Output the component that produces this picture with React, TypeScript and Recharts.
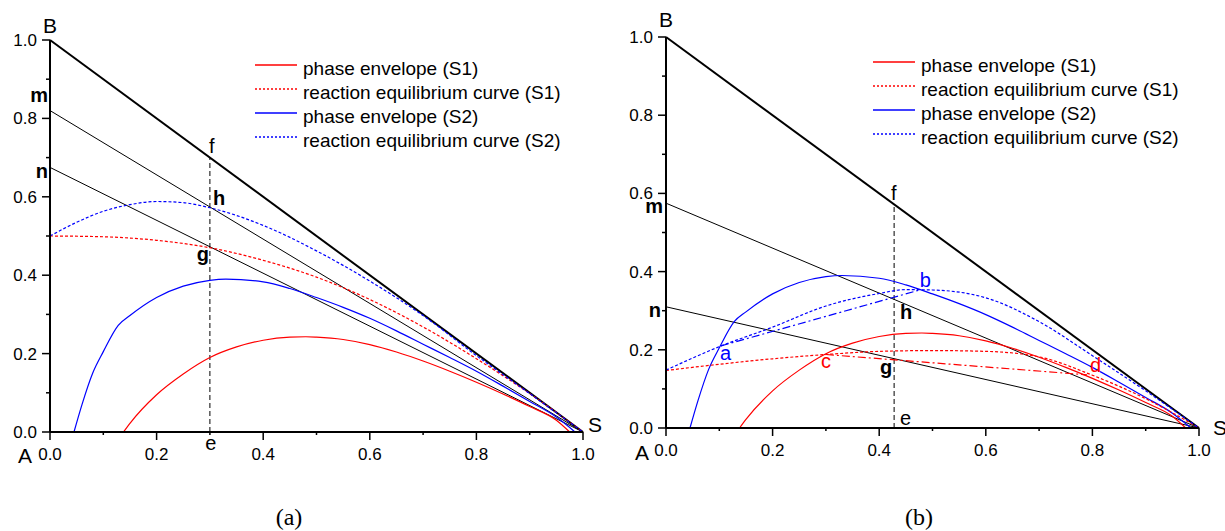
import React from "react";
import { LineChart, Line, XAxis, YAxis, ReferenceDot, Legend } from "recharts";

type Pt = [number, number];

// axis ticks (every 0.1, labels on the even ones)
const axisTicks = [0, 0.1, 0.2, 0.3, 0.4, 0.5, 0.6, 0.7, 0.8, 0.9, 1.0];

const legendNames = [
  "phase envelope (S1)",
  "reaction equilibrium curve (S1)",
  "phase envelope (S2)",
  "reaction equilibrium curve (S2)",
];

// triangle and operating lines
const sideBS: Pt[] = [[0, 1], [1, 0]];
const lineMa: Pt[] = [[0, 0.82], [1, 0]];
const lineNa: Pt[] = [[0, 0.675], [1, 0]];
const lineEFa: Pt[] = [[0.3, 0], [0.3, 0.7]];
const lineMb: Pt[] = [[0, 0.575], [1, 0]];
const lineNb: Pt[] = [[0, 0.31], [1, 0]];
const lineEFb: Pt[] = [[0.428, 0], [0.428, 0.572]];

// phase envelopes (same in both panels)
const envS1: Pt[] = [
  [0.138, 0], [0.15, 0.022], [0.2, 0.095], [0.25, 0.148], [0.3, 0.19], [0.35, 0.217],
  [0.4, 0.234], [0.45, 0.242], [0.48, 0.243], [0.5, 0.242], [0.55, 0.236], [0.6, 0.223],
  [0.65, 0.204], [0.7, 0.181], [0.75, 0.155], [0.8, 0.127], [0.85, 0.097], [0.9, 0.065],
  [0.95, 0.03], [0.975, 0],
];
const envS2: Pt[] = [
  [0.045, 0], [0.06, 0.07], [0.08, 0.15], [0.1, 0.205], [0.128, 0.272], [0.15, 0.297],
  [0.2, 0.343], [0.25, 0.372], [0.3, 0.387], [0.33, 0.39], [0.4, 0.383], [0.45, 0.366],
  [0.5, 0.343], [0.55, 0.318], [0.6, 0.29], [0.65, 0.258], [0.7, 0.224], [0.75, 0.19],
  [0.8, 0.155], [0.85, 0.117], [0.9, 0.078], [0.95, 0.038], [0.985, 0],
];

// reaction equilibrium curves, panel (a)
const reqS1a: Pt[] = [
  [0, 0.5], [0.1, 0.498], [0.2, 0.489], [0.3, 0.47], [0.4, 0.438], [0.5, 0.395],
  [0.6, 0.338], [0.7, 0.268], [0.8, 0.187], [0.9, 0.098], [1, 0],
];
const reqS2a: Pt[] = [
  [0, 0.5], [0.05, 0.535], [0.1, 0.563], [0.15, 0.58], [0.2, 0.588], [0.25, 0.585],
  [0.3, 0.572], [0.4, 0.527], [0.5, 0.462], [0.6, 0.385], [0.7, 0.297], [0.8, 0.195],
  [0.9, 0.098], [1, 0],
];

// reaction equilibrium curves, panel (b)
const reqS1b: Pt[] = [
  [0, 0.147], [0.1, 0.163], [0.2, 0.177], [0.3, 0.188], [0.4, 0.196], [0.5, 0.198],
  [0.6, 0.196], [0.7, 0.182], [0.8, 0.135], [0.9, 0.075], [1, 0],
];
const reqS2b: Pt[] = [
  [0, 0.148], [0.1, 0.208], [0.2, 0.258], [0.3, 0.312], [0.4, 0.344], [0.45, 0.354],
  [0.5, 0.353], [0.6, 0.333], [0.7, 0.272], [0.8, 0.185], [0.9, 0.095], [1, 0],
];
const tieS2b: Pt[] = [[0.103, 0.21], [0.476, 0.353]];
const tieS1b: Pt[] = [[0.3, 0.188], [0.79, 0.136]];

// point names
const tagsA: { t: string; x: number; y: number }[] = [
  { t: "B", x: 0, y: 1 }, { t: "A", x: 0, y: 0 }, { t: "S", x: 1, y: 0 },
  { t: "m", x: 0, y: 0.82 }, { t: "n", x: 0, y: 0.675 },
  { t: "f", x: 0.3, y: 0.7 }, { t: "h", x: 0.3, y: 0.574 },
  { t: "g", x: 0.3, y: 0.4725 }, { t: "e", x: 0.3, y: 0 },
];
const tagsB: { t: string; x: number; y: number }[] = [
  { t: "B", x: 0, y: 1 }, { t: "A", x: 0, y: 0 }, { t: "S", x: 1, y: 0 },
  { t: "m", x: 0, y: 0.575 }, { t: "n", x: 0, y: 0.31 },
  { t: "f", x: 0.428, y: 0.572 }, { t: "h", x: 0.428, y: 0.329 },
  { t: "g", x: 0.428, y: 0.177 }, { t: "e", x: 0.428, y: 0 },
  { t: "a", x: 0.103, y: 0.21 }, { t: "b", x: 0.476, y: 0.353 },
  { t: "c", x: 0.3, y: 0.188 }, { t: "d", x: 0.79, y: 0.136 },
];

const FONT = "'Liberation Sans', Arial, Helvetica, sans-serif";
const RED = "#ff0000";
const BLUE = "#0000ff";

type TagStyle = { dx: number; dy: number; anchor: "start" | "middle" | "end"; size: number; bold?: boolean; color?: string };

const tagStyleA: Record<string, TagStyle> = {
  B: { dx: 0, dy: -7, anchor: "middle", size: 21 },
  A: { dx: -25, dy: 31, anchor: "middle", size: 21 },
  S: { dx: 5, dy: 0, anchor: "start", size: 21 },
  m: { dx: -2, dy: -9, anchor: "end", size: 20, bold: true },
  n: { dx: -2, dy: 11, anchor: "end", size: 20, bold: true },
  f: { dx: -1, dy: -5, anchor: "start", size: 20 },
  h: { dx: 3, dy: -2, anchor: "start", size: 20, bold: true },
  g: { dx: -1, dy: 14, anchor: "end", size: 20, bold: true },
  e: { dx: 1, dy: 18, anchor: "middle", size: 20 },
};
const tagStyleB: Record<string, TagStyle> = {
  B: { dx: 0, dy: -10, anchor: "middle", size: 21 },
  A: { dx: -24, dy: 32, anchor: "middle", size: 21 },
  S: { dx: 14, dy: 7, anchor: "start", size: 21 },
  m: { dx: -3, dy: 10, anchor: "end", size: 20, bold: true },
  n: { dx: -5, dy: 10, anchor: "end", size: 20, bold: true },
  f: { dx: -3, dy: -4, anchor: "start", size: 20 },
  h: { dx: 6, dy: 20, anchor: "start", size: 20, bold: true },
  g: { dx: -2, dy: 15, anchor: "end", size: 20, bold: true },
  e: { dx: 6, dy: -3, anchor: "start", size: 20 },
  a: { dx: -1, dy: 14, anchor: "start", size: 20, color: BLUE },
  b: { dx: 0, dy: -3, anchor: "start", size: 20, color: BLUE },
  c: { dx: -5, dy: 14, anchor: "start", size: 20, color: RED },
  d: { dx: 3, dy: -3, anchor: "start", size: 20, color: RED },
};

const pts = (arr: Pt[]) => arr.map(([x, y]) => ({ x, y }));
const isMajor = (v: number) => Math.round(v * 10) % 2 === 0;

function XTick(props: any) {
  const { x, y, payload } = props;
  const v = payload.value as number;
  const major = isMajor(v);
  return (
    <g>
      <line x1={x} x2={x} y1={y} y2={y + (major ? 8 : 3)} stroke="#000" strokeWidth={1.5} />
      {major && (
        <text x={x} y={y + 28} textAnchor="middle" fontSize={17} fontFamily={FONT} fill="#000">
          {v.toFixed(1)}
        </text>
      )}
    </g>
  );
}

function YTick(props: any) {
  const { x, y, payload } = props;
  const v = payload.value as number;
  const major = isMajor(v);
  return (
    <g>
      <line x1={x} x2={x - (major ? 8 : 4)} y1={y} y2={y} stroke="#000" strokeWidth={1.5} />
      {major && (
        <text x={x - 13} y={y + 6} textAnchor="end" fontSize={17} fontFamily={FONT} fill="#000">
          {v.toFixed(1)}
        </text>
      )}
    </g>
  );
}

const legendStyles = [
  { color: RED, dash: undefined },
  { color: RED, dash: "2 2" },
  { color: BLUE, dash: undefined },
  { color: BLUE, dash: "2 2" },
];

function LegendBox() {
  return (
    <svg width={340} height={100} style={{ overflow: "visible" }}>
      {legendNames.map((name, i) => (
        <g key={name}>
          <line
            x1={0}
            x2={42}
            y1={10 + i * 24}
            y2={10 + i * 24}
            stroke={legendStyles[i].color}
            strokeWidth={1.3}
            strokeDasharray={legendStyles[i].dash}
          />
          <text x={48} y={20 + i * 24} fontSize={19} fontFamily={FONT} fill="#000">
            {name}
          </text>
        </g>
      ))}
    </svg>
  );
}

function tagDot(tag: { t: string; x: number; y: number }, st: TagStyle) {
  return (
    <ReferenceDot
      key={tag.t}
      x={tag.x}
      y={tag.y}
      r={0}
      shape={(p: any) => (
        <text
          x={p.cx + st.dx}
          y={p.cy + st.dy}
          textAnchor={st.anchor}
          fontSize={st.size}
          fontWeight={st.bold ? "bold" : "normal"}
          fontFamily={FONT}
          fill={st.color ?? "#000"}
        >
          {tag.t}
        </text>
      )}
    />
  );
}

function seg(id: string, data: Pt[], color: string, width: number, dash?: string) {
  return (
    <Line
      key={id}
      data={pts(data)}
      dataKey="y"
      type="monotone"
      stroke={color}
      strokeWidth={width}
      strokeDasharray={dash}
      dot={false}
      activeDot={false}
      legendType="none"
      isAnimationActive={false}
    />
  );
}

function axes(xHeight: number) {
  return [
    <XAxis
      key="x"
      xAxisId={0}
      type="number"
      dataKey="x"
      domain={[0, 1]}
      ticks={axisTicks}
      interval={0}
      height={xHeight}
      tickSize={0}
      tickMargin={0}
      tickLine={false}
      tick={<XTick />}
      axisLine={{ stroke: "#000", strokeWidth: 2 }}
    />,
    <YAxis
      key="y"
      yAxisId={0}
      type="number"
      domain={[0, 1]}
      ticks={axisTicks}
      interval={0}
      width={50}
      tickSize={0}
      tickMargin={0}
      tickLine={false}
      tick={<YTick />}
      axisLine={{ stroke: "#000", strokeWidth: 2 }}
    />,
  ];
}

function PanelA() {
  return (
    <LineChart width={610} height={470} margin={{ top: 40, right: 27, bottom: 0, left: 0 }}>
      {axes(38)}
      {seg("bs", sideBS, "#000", 2)}
      {seg("m", lineMa, "#000", 1)}
      {seg("n", lineNa, "#000", 1)}
      {seg("ef", lineEFa, "#000", 1, "5 3")}
      {seg("env1", envS1, RED, 1.2)}
      {seg("env2", envS2, BLUE, 1.2)}
      {seg("req1", reqS1a, RED, 1.2, "3 2")}
      {seg("req2", reqS2a, BLUE, 1.2, "3 2")}
      {tagsA.map((t) => tagDot(t, tagStyleA[t.t]))}
      <Legend
        layout="vertical"
        align="center"
        verticalAlign="middle"
        wrapperStyle={{ top: 55, left: 255, width: 340, height: 100 }}
        content={() => <LegendBox />}
      />
    </LineChart>
  );
}

function PanelB() {
  return (
    <LineChart width={609} height={470} margin={{ top: 37, right: 26, bottom: 0, left: 0 }}>
      {axes(42)}
      {seg("bs", sideBS, "#000", 2)}
      {seg("m", lineMb, "#000", 1)}
      {seg("n", lineNb, "#000", 1)}
      {seg("ef", lineEFb, "#000", 1, "5 3")}
      {seg("env1", envS1, RED, 1.2)}
      {seg("env2", envS2, BLUE, 1.2)}
      {seg("req1", reqS1b, RED, 1.2, "3 2")}
      {seg("req2", reqS2b, BLUE, 1.2, "3 2")}
      {seg("tie1", tieS1b, RED, 1.2, "8 3 2 3")}
      {seg("tie2", tieS2b, BLUE, 1.2, "8 3 2 3")}
      {tagsB.map((t) => tagDot(t, tagStyleB[t.t]))}
      <Legend
        layout="vertical"
        align="center"
        verticalAlign="middle"
        wrapperStyle={{ top: 52, left: 257, width: 340, height: 100 }}
        content={() => <LegendBox />}
      />
    </LineChart>
  );
}

export default function App() {
  const caption: React.CSSProperties = {
    position: "absolute",
    top: 503,
    width: 60,
    textAlign: "center",
    fontFamily: "'Liberation Serif', 'Times New Roman', serif",
    fontSize: 24,
    lineHeight: "28px",
    color: "#000",
  };
  return (
    <div style={{ position: "absolute", left: 0, top: 0, width: 1225, height: 531, background: "#fff", overflow: "hidden" }}>
      <div style={{ position: "absolute", left: 0, top: 0 }}>
        <PanelA />
      </div>
      <div style={{ position: "absolute", left: 616, top: 0 }}>
        <PanelB />
      </div>
      <div style={{ ...caption, left: 259 }}>(a)</div>
      <div style={{ ...caption, left: 889 }}>(b)</div>
    </div>
  );
}
